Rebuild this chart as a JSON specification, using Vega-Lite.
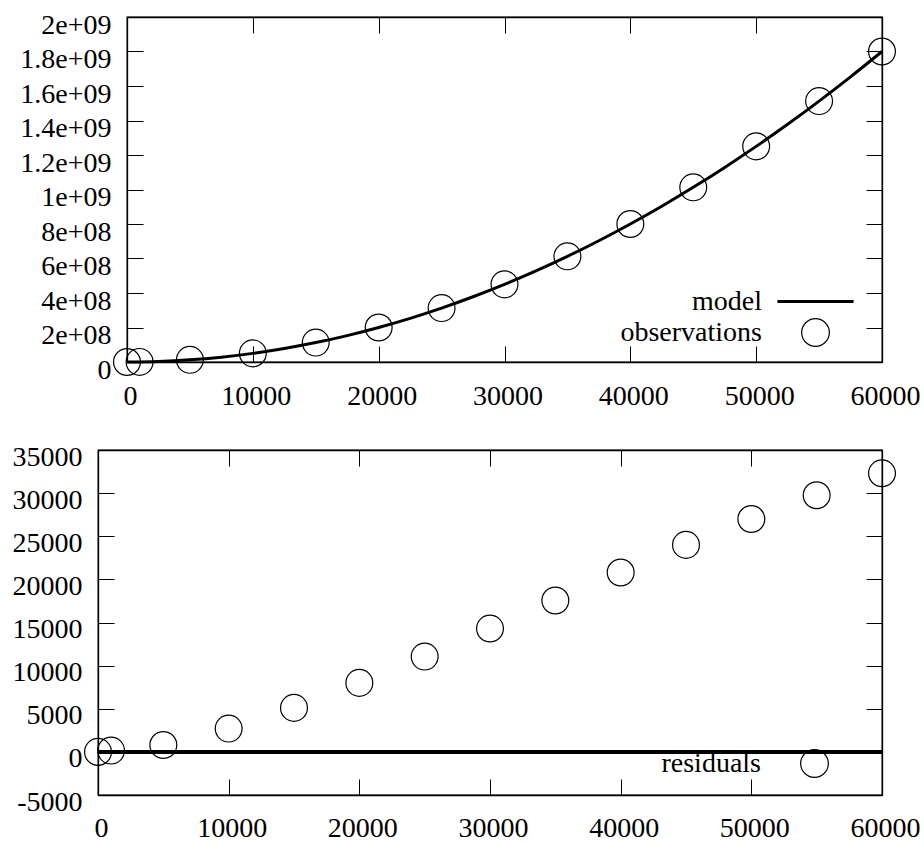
{
  "$schema": "https://vega.github.io/schema/vega-lite/v6.json",
  "background": "white",
  "padding": {"left": 10, "top": 10, "right": 5, "bottom": 3},
  "spacing": 31,
  "config": {
    "font": "Liberation Serif",
    "view": {"stroke": "black", "strokeWidth": 1.3},
    "axis": {
      "labelFont": "Liberation Serif",
      "labelFontSize": 28,
      "labelColor": "black",
      "domainColor": "black",
      "domainWidth": 1.3,
      "tickColor": "black",
      "tickWidth": 1,
      "tickSize": -16,
      "grid": false,
      "labelFlush": false,
      "labelOverlap": false
    }
  },
  "datasets": {
    "model": [
      {"x": 0, "y": 0}, {"x": 2500, "y": 3125000}, {"x": 5000, "y": 12500000}, {"x": 7500, "y": 28125000},
      {"x": 10000, "y": 50000000}, {"x": 12500, "y": 78125000}, {"x": 15000, "y": 112500000}, {"x": 17500, "y": 153125000},
      {"x": 20000, "y": 200000000}, {"x": 22500, "y": 253125000}, {"x": 25000, "y": 312500000}, {"x": 27500, "y": 378125000},
      {"x": 30000, "y": 450000000}, {"x": 32500, "y": 528125000}, {"x": 35000, "y": 612500000}, {"x": 37500, "y": 703125000},
      {"x": 40000, "y": 800000000}, {"x": 42500, "y": 903125000}, {"x": 45000, "y": 1012500000}, {"x": 47500, "y": 1128125000},
      {"x": 50000, "y": 1250000000}, {"x": 52500, "y": 1378125000}, {"x": 55000, "y": 1512500000}, {"x": 57500, "y": 1653125000},
      {"x": 60000, "y": 1800000000}
    ],
    "obs": [
      {"x": 0, "y": 0, "series": "observations"},
      {"x": 1000, "y": 500150, "series": "observations"},
      {"x": 5000, "y": 12500800, "series": "observations"},
      {"x": 10000, "y": 50002700, "series": "observations"},
      {"x": 15000, "y": 112505100, "series": "observations"},
      {"x": 20000, "y": 200008000, "series": "observations"},
      {"x": 25000, "y": 312511050, "series": "observations"},
      {"x": 30000, "y": 450014300, "series": "observations"},
      {"x": 35000, "y": 612517550, "series": "observations"},
      {"x": 40000, "y": 800020800, "series": "observations"},
      {"x": 45000, "y": 1012524000, "series": "observations"},
      {"x": 50000, "y": 1250027000, "series": "observations"},
      {"x": 55000, "y": 1512529750, "series": "observations"},
      {"x": 60000, "y": 1800032300, "series": "observations"}
    ],
    "resid": [
      {"x": 0, "r": 0, "series": "residuals"},
      {"x": 1000, "r": 150, "series": "residuals"},
      {"x": 5000, "r": 800, "series": "residuals"},
      {"x": 10000, "r": 2700, "series": "residuals"},
      {"x": 15000, "r": 5100, "series": "residuals"},
      {"x": 20000, "r": 8000, "series": "residuals"},
      {"x": 25000, "r": 11050, "series": "residuals"},
      {"x": 30000, "r": 14300, "series": "residuals"},
      {"x": 35000, "r": 17550, "series": "residuals"},
      {"x": 40000, "r": 20800, "series": "residuals"},
      {"x": 45000, "r": 24000, "series": "residuals"},
      {"x": 50000, "r": 27000, "series": "residuals"},
      {"x": 55000, "r": 29750, "series": "residuals"},
      {"x": 60000, "r": 32300, "series": "residuals"}
    ],
    "none": []
  },
  "resolve": {
    "scale": {"x": "independent", "y": "independent", "shape": "independent"},
    "legend": {"shape": "independent"}
  },
  "vconcat": [
    {
      "bounds": "flush",
      "spacing": 0,
      "hconcat": [
        {
          "width": 29,
          "height": 345,
          "data": {"name": "none"},
          "mark": {"type": "point"},
          "encoding": {},
          "view": {"stroke": null}
        },
        {
          "width": 755,
          "height": 345,
          "resolve": {"axis": {"x": "independent", "y": "independent"}},
          "layer": [
            {
              "data": {"name": "model"},
              "mark": {"type": "line", "color": "black", "strokeWidth": 3, "interpolate": "monotone"},
              "encoding": {
                "x": {
                  "field": "x", "type": "quantitative",
                  "scale": {"domain": [0, 60000], "nice": false, "zero": false},
                  "axis": {"orient": "bottom", "title": null, "values": [0, 10000, 20000, 30000, 40000, 50000, 60000],
                           "labelExpr": "'' + datum.value", "labelPadding": 36, "labelOffset": 3}
                },
                "y": {
                  "field": "y", "type": "quantitative",
                  "scale": {"domain": [0, 2000000000], "nice": false},
                  "axis": {"orient": "left", "title": null,
                           "values": [0, 200000000, 400000000, 600000000, 800000000, 1000000000, 1200000000, 1400000000, 1600000000, 1800000000, 2000000000],
                           "labelExpr": "datum.value == 0 ? '0' : replace(format(datum.value, '~e'), 'e+', 'e+0')",
                           "labelPadding": 32, "labelOffset": 8, "minExtent": 116}
                }
              }
            },
            {
              "data": {"name": "obs"},
              "mark": {"type": "point", "filled": false, "color": "black", "size": 720, "strokeWidth": 1.2, "opacity": 1},
              "encoding": {
                "x": {
                  "field": "x", "type": "quantitative",
                  "axis": {"orient": "top", "title": null, "labels": false, "values": [0, 10000, 20000, 30000, 40000, 50000, 60000]}
                },
                "y": {
                  "field": "y", "type": "quantitative",
                  "axis": {"orient": "right", "title": null, "labels": false, "minExtent": 0,
                           "values": [0, 200000000, 400000000, 600000000, 800000000, 1000000000, 1200000000, 1400000000, 1600000000, 1800000000, 2000000000]}
                },
                "shape": {
                  "field": "series", "type": "nominal",
                  "scale": {"domain": ["model", "observations"], "range": ["M-2.75,-0.07H2.75M-2.75,0H2.75M-2.75,0.07H2.75", "circle"]},
                  "legend": {
                    "orient": "none", "legendX": 703, "legendY": 270, "title": null, "padding": 0, "rowPadding": 0,
                    "labelAlign": "right", "labelOffset": -68, "labelLimit": 400,
                    "labelFont": "Liberation Serif", "labelFontSize": 28, "labelColor": "black",
                    "symbolSize": 767, "symbolStrokeColor": "black", "symbolFillColor": "transparent", "symbolStrokeWidth": 1.2,
                    "encode": {"labels": {"update": {"dy": {"value": 4}}}}
                  }
                }
              }
            }
          ]
        }
      ]
    },
    {
      "width": 784,
      "height": 345,
      "resolve": {"axis": {"x": "independent", "y": "independent"}},
      "layer": [
        {
          "data": {"name": "resid"},
          "mark": {"type": "point", "filled": false, "color": "black", "size": 720, "strokeWidth": 1.2, "opacity": 1},
          "encoding": {
            "x": {
              "field": "x", "type": "quantitative",
              "scale": {"domain": [0, 60000], "nice": false, "zero": false},
              "axis": {"orient": "bottom", "title": null, "values": [0, 10000, 20000, 30000, 40000, 50000, 60000],
                       "labelExpr": "'' + datum.value", "labelPadding": 35, "labelOffset": 3}
            },
            "y": {
              "field": "r", "type": "quantitative",
              "scale": {"domain": [-5000, 35000], "nice": false},
              "axis": {"orient": "left", "title": null,
                       "values": [-5000, 0, 5000, 10000, 15000, 20000, 25000, 30000, 35000],
                       "labelExpr": "'' + datum.value", "labelPadding": 32, "labelOffset": 7, "minExtent": 87}
            },
            "shape": {
              "field": "series", "type": "nominal",
              "scale": {"domain": ["residuals"], "range": ["circle"]},
              "legend": {
                "orient": "none", "legendX": 702, "legendY": 299, "title": null, "padding": 0, "rowPadding": 0,
                "labelAlign": "right", "labelOffset": -68, "labelLimit": 400,
                "labelFont": "Liberation Serif", "labelFontSize": 28, "labelColor": "black",
                "symbolSize": 767, "symbolStrokeColor": "black", "symbolFillColor": "transparent", "symbolStrokeWidth": 1.2,
                "encode": {"labels": {"update": {"dy": {"value": 4}}}}
              }
            }
          }
        },
        {
          "data": {"name": "resid"},
          "mark": {"type": "rule", "color": "black", "strokeWidth": 3},
          "encoding": {
            "x": {"datum": 0, "type": "quantitative",
                  "axis": {"orient": "top", "title": null, "labels": false, "values": [0, 10000, 20000, 30000, 40000, 50000, 60000]}},
            "x2": {"datum": 60000},
            "y": {"datum": 0, "type": "quantitative",
                  "axis": {"orient": "right", "title": null, "labels": false, "minExtent": 0,
                           "values": [-5000, 0, 5000, 10000, 15000, 20000, 25000, 30000, 35000]}}
          }
        }
      ]
    }
  ]
}
